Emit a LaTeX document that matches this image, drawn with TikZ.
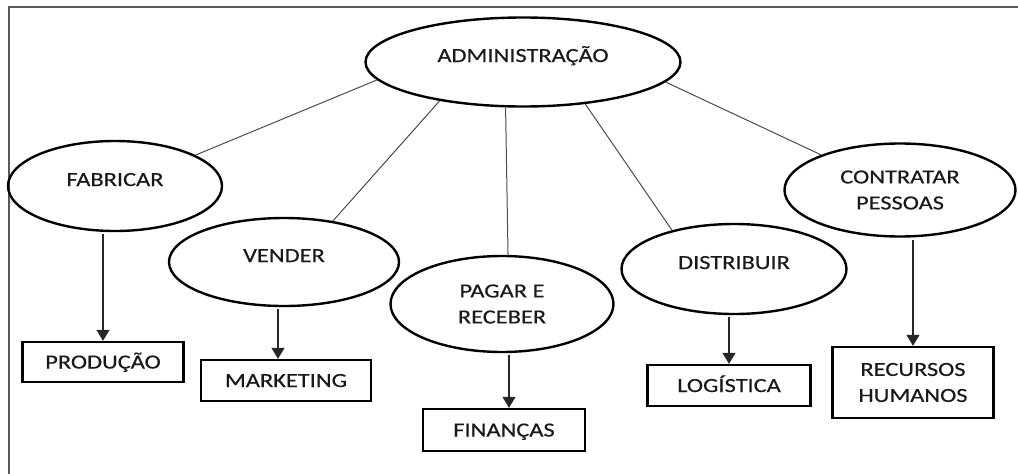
\documentclass[tikz,border=0pt]{standalone}
\usepackage{fontspec}
\setmainfont{Carlito}[FakeStretch=1.22, FakeBold=0.4]
\usetikzlibrary{shapes.geometric,arrows.meta}

\tikzset{
  bubble/.style={ellipse, draw=black, line width=2.4pt, inner sep=0pt,
    font=\fontsize{20}{26}\selectfont, text=black!90, align=center},
  oneline/.style={text height=13pt, text depth=13pt},
  areabox/.style={rectangle, draw=black, line width=2.4pt, inner sep=0pt,
    font=\fontsize{20}{26}\selectfont, text=black!90, align=center},
  flatbox/.style={text height=13pt, text depth=0pt},
  link/.style={draw=black!70, line width=1pt},
  flow/.style={draw=black!85, line width=1.4pt, shorten <=2pt,
    -{Triangle[width=13pt,length=11pt]}},
  rim/.style={draw=black!65, line width=2pt}
}

\begin{document}
\begin{tikzpicture}[x=1pt, y=-1pt]
  \useasboundingbox (0,0) rectangle (1018,474);

  % outer frame (top and left edges)
  \draw[rim] (1018,7) -- (9,7) -- (9,474);

  % central activity
  \node[bubble, oneline, minimum width=315pt, minimum height=89pt] (admin) at (523,62) {ADMINISTRAÇÃO};

  % activities
  \node[bubble, oneline, minimum width=214pt, minimum height=90pt] (fab)  at (115,186) {FABRICAR};
  \node[bubble, oneline, minimum width=230pt, minimum height=88pt] (vend) at (284,262) {VENDER};
  \node[bubble, minimum width=223pt, minimum height=96pt] (pag)  at (502,304) {PAGAR E\\RECEBER};
  \node[bubble, oneline, minimum width=225pt, minimum height=90pt] (dist) at (734,269) {DISTRIBUIR};
  \node[bubble, minimum width=231pt, minimum height=93pt] (contr) at (900,190) {CONTRATAR\\PESSOAS};

  % departments
  \node[areabox, flatbox, minimum width=161pt, minimum height=40pt] (prod) at (103,362) {PRODUÇÃO};
  \node[areabox, flatbox, minimum width=170pt, minimum height=41pt] (mkt)  at (286,380.5) {MARKETING};
  \node[areabox, flatbox, minimum width=162pt, minimum height=42pt] (fin)  at (504,430) {FINANÇAS};
  \node[areabox, flatbox, minimum width=163pt, minimum height=41pt] (log)  at (729,385.5) {LOGÍSTICA};
  \node[areabox, minimum width=161pt, minimum height=71pt] (rh) at (913,382.5) {RECURSOS\\HUMANOS};

  % links from the centre to each activity
  \draw[link] (admin.187) -- (fab.21);
  \draw[link] (admin.205) -- (vend.40);
  \draw[link] (admin.249) -- (pag.83);
  \draw[link] (admin.326) -- (dist.148);
  \draw[link] (admin.352) -- (contr.156);

  % activity -> department
  \draw[flow] (fab.south -| prod.north) -- (prod.north);
  \draw[flow] ([xshift=-6pt]vend.south) -- ([xshift=-6pt]vend.south |- mkt.north);
  \draw[flow] ([xshift=7pt]pag.south) -- ([xshift=7pt]pag.south |- fin.north);
  \draw[flow] (dist.south -| log.north) -- (log.north);
  \draw[flow] (contr.south -| rh.north) -- (rh.north);
\end{tikzpicture}
\end{document}
